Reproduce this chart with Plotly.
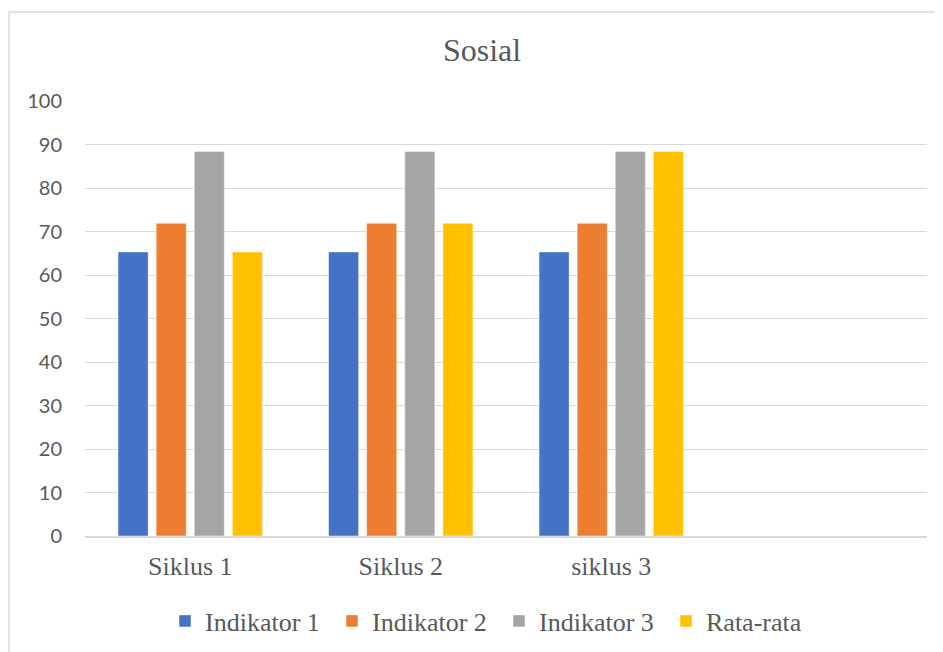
import plotly.graph_objects as go

categories = ["Siklus 1", "Siklus 2", "siklus 3", " "]
indikator1 = [65.3, 65.3, 65.3, None]
indikator2 = [71.9, 71.9, 71.9, None]
indikator3 = [88.4, 88.4, 88.4, None]
rata_rata = [65.3, 71.9, 88.4, None]

series_names = ["Indikator 1", "Indikator 2", "Indikator 3", "Rata-rata"]
series_values = [indikator1, indikator2, indikator3, rata_rata]
colors = ["#4472C4", "#ED7D31", "#A5A5A5", "#FFC000"]

# page has an 8px body margin; figure sized to fit the window
OFF = 8
W, H = 943 - OFF, 652 - OFF
L = 85 - OFF
T = 101 - OFF
R = W - (927 - OFF)
B = H - (536 - OFF)
pw, ph = W - L - R, H - T - B

fig = go.Figure()
for name, vals, c in zip(series_names, series_values, colors):
    fig.add_trace(go.Bar(
        x=categories, y=vals, name=name,
        marker=dict(color=c, line=dict(color="rgba(255,255,255,0.6)", width=0.8)),
    ))

serif = "Liberation Serif, DejaVu Serif, serif"
fig.update_layout(
    width=W, height=H,
    margin=dict(l=L, r=R, t=T, b=B),
    paper_bgcolor="white", plot_bgcolor="white",
    barmode="group", bargap=0.276, bargroupgap=0.21,
    title=dict(text="Sosial", x=(482 - OFF) / W, xanchor="center",
               y=1 - (50 - OFF) / H, yanchor="middle",
               font=dict(family=serif, size=32, color="#595959")),
    xaxis=dict(type="category", categoryorder="array", categoryarray=categories,
               showgrid=False, showline=True, linecolor="#d9d9d9", linewidth=1.5,
               ticks="", tickfont=dict(family=serif, size=26, color="#595959"),
               ticklabelstandoff=6),
    yaxis=dict(range=[0, 100], tickvals=list(range(0, 101, 10)),
               showgrid=True, gridcolor="#d9d9d9", gridwidth=1.3,
               zeroline=False, showline=False, ticks="",
               tickfont=dict(family="Lato, Liberation Sans, sans-serif", size=20, color="#595959"),
               ticklabelstandoff=22),
    legend=dict(orientation="h", x=(499 - OFF) / W, xref="container", xanchor="center",
                y=1 - (621 - OFF) / H, yref="container", yanchor="middle",
                font=dict(family=serif, size=26, color="#595959"),
                itemwidth=30, traceorder="normal",
                entrywidth=122, entrywidthmode="pixels"),
    showlegend=True,
)

fig.add_shape(type="rect", xref="paper", yref="paper",
              x0=(9 - 85) / pw, x1=(960 - 85) / pw,
              y0=(536 - 670) / ph, y1=(536 - 12) / ph,
              line=dict(color="#d9d9d9", width=1.5), fillcolor="rgba(0,0,0,0)", layer="below")

fig.write_html("out.html")
